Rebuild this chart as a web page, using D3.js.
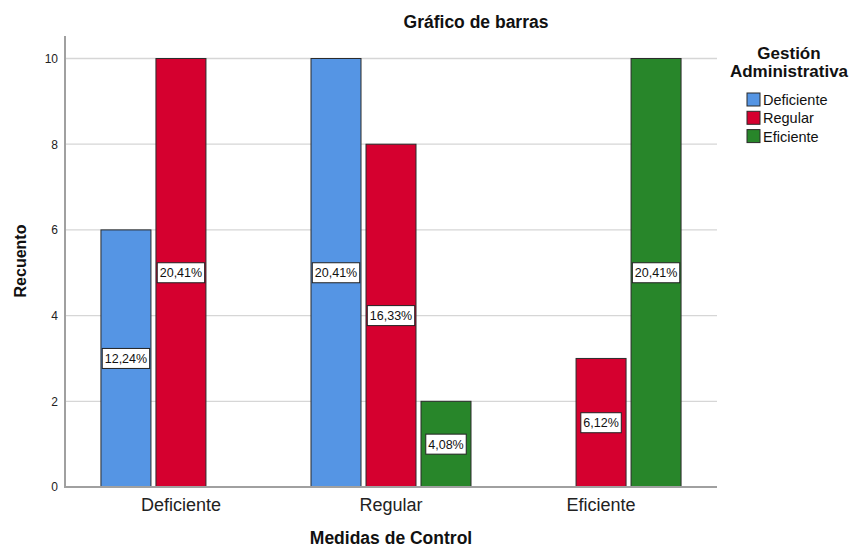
<!DOCTYPE html>
<html>
<head>
<meta charset="utf-8">
<script src="https://cdn.jsdelivr.net/npm/d3@7/dist/d3.min.js"></script>
<style>
  body { margin: 0; background: #fff; }
  svg { display: block; font-family: "Liberation Sans", Arial, sans-serif; }
</style>
</head>
<body>
<svg id="chart" width="854" height="548"></svg>
<script>
// Categories along the x axis (Medidas de Control)
const categories = ["Deficiente", "Regular", "Eficiente"];
// Legend groups (Gestión Administrativa)
const groups = ["Deficiente", "Regular", "Eficiente"];
// Counts per group, one value per category
const deficienteCounts = [6, 10, 0];
const regularCounts = [10, 8, 3];
const eficienteCounts = [0, 2, 10];
// Percent labels per group, one per category
const deficienteLabels = ["12,24%", "20,41%", ""];
const regularLabels = ["20,41%", "16,33%", "6,12%"];
const eficienteLabels = ["", "4,08%", "20,41%"];
const yTicks = [0, 2, 4, 6, 8, 10];
const legendTitle = ["Gestión", "Administrativa"];
const colors = ["#5595e4", "#d5002f", "#28862a"];

const counts = [deficienteCounts, regularCounts, eficienteCounts];
const labels = [deficienteLabels, regularLabels, eficienteLabels];

const svg = d3.select("#chart");
const plot = { left: 65, right: 717, top: 36, bottom: 487 };

const x = d3.scaleBand().domain(categories)
  .range([plot.left, plot.right]).paddingInner(0).paddingOuter(0.052);
const xSub = d3.scaleBand().domain(groups)
  .range([-80, 80]).paddingInner(5 / 55).paddingOuter(0);
const y = d3.scaleLinear().domain([0, 10]).range([plot.bottom, 58.5]);

// gridlines
svg.append("g").selectAll("line").data(yTicks.filter(t => t > 0)).join("line")
  .attr("x1", plot.left).attr("x2", plot.right)
  .attr("y1", d => y(d)).attr("y2", d => y(d))
  .attr("stroke", "#d6d6d6").attr("stroke-width", 1.3);

// bars
const barData = [];
groups.forEach((g, gi) => categories.forEach((c, ci) => {
  barData.push({ g, gi, c, v: counts[gi][ci], label: labels[gi][ci] });
}));
const bars = barData.filter(d => d.v > 0);

svg.append("g").selectAll("rect").data(bars).join("rect")
  .attr("x", d => x(d.c) + x.bandwidth() / 2 + xSub(d.g))
  .attr("y", d => y(d.v))
  .attr("width", xSub.bandwidth())
  .attr("height", d => y(0) - y(d.v))
  .attr("fill", d => colors[d.gi])
  .attr("stroke", "#2b2b2b").attr("stroke-width", 1);

// value labels in the middle of each bar, boxed to fit the text
const lab = svg.append("g").selectAll("g").data(bars).join("g")
  .attr("transform", d => `translate(${x(d.c) + x.bandwidth() / 2 + xSub(d.g) + xSub.bandwidth() / 2},${y(d.v / 2)})`);
lab.append("rect")
  .attr("y", -10).attr("height", 20)
  .attr("fill", "#fff").attr("stroke", "#222").attr("stroke-width", 1);
const labText = lab.append("text").text(d => d.label)
  .attr("text-anchor", "middle").attr("dy", "0.36em")
  .attr("font-size", 12.5).attr("fill", "#111");
labText.each(function () {
  const w = this.getComputedTextLength() + 5;
  d3.select(this.parentNode).select("rect").attr("x", -w / 2).attr("width", w);
});

// axes
const axisColor = "#a0a0a0";
const yAxis = svg.append("g").attr("transform", `translate(${plot.left},0)`)
  .call(d3.axisLeft(y).tickValues(yTicks).tickSize(0).tickPadding(7));
yAxis.select(".domain").remove();
yAxis.selectAll("text").attr("font-size", 12).attr("fill", "#222")
  .attr("font-family", "Liberation Sans, Arial, sans-serif");
svg.append("line").attr("x1", plot.left).attr("x2", plot.left)
  .attr("y1", plot.top).attr("y2", plot.bottom)
  .attr("stroke", axisColor).attr("stroke-width", 2);

const xAxis = svg.append("g").attr("transform", `translate(0,${plot.bottom})`)
  .call(d3.axisBottom(x).tickSize(0));
xAxis.select(".domain").remove();
xAxis.selectAll("text").attr("font-size", 18).attr("fill", "#222")
  .attr("y", 24).attr("dy", 0)
  .attr("font-family", "Liberation Sans, Arial, sans-serif");
svg.append("line").attr("x1", plot.left - 1).attr("x2", plot.right)
  .attr("y1", plot.bottom).attr("y2", plot.bottom)
  .attr("stroke", axisColor).attr("stroke-width", 2);

// titles
svg.append("text").text("Gráfico de barras")
  .attr("x", 476).attr("y", 28).attr("text-anchor", "middle")
  .attr("font-size", 17.5).attr("font-weight", "bold").attr("fill", "#111");
svg.append("text").text("Medidas de Control")
  .attr("x", 391).attr("y", 544).attr("text-anchor", "middle")
  .attr("font-size", 17.5).attr("font-weight", "bold").attr("fill", "#111");
svg.append("text").text("Recuento")
  .attr("transform", "translate(26,261) rotate(-90)").attr("text-anchor", "middle")
  .attr("font-size", 16).attr("font-weight", "bold").attr("fill", "#111");

// legend
const legend = svg.append("g");
legend.selectAll("text.title").data(legendTitle).join("text")
  .attr("class", "title")
  .attr("x", 789).attr("y", (d, i) => 59 + i * 18).attr("text-anchor", "middle")
  .attr("font-size", 17).attr("font-weight", "bold").attr("fill", "#111")
  .text(d => d);
const items = legend.selectAll("g.item").data(groups).join("g")
  .attr("class", "item")
  .attr("transform", (d, i) => `translate(747,${93 + i * 18.3})`);
items.append("rect").attr("width", 13).attr("height", 13)
  .attr("fill", (d, i) => colors[i]).attr("stroke", "#2b2b2b").attr("stroke-width", 1);
items.append("text").text(d => d).attr("x", 16).attr("y", 12)
  .attr("font-size", 14.5).attr("fill", "#111");
</script>
</body>
</html>
